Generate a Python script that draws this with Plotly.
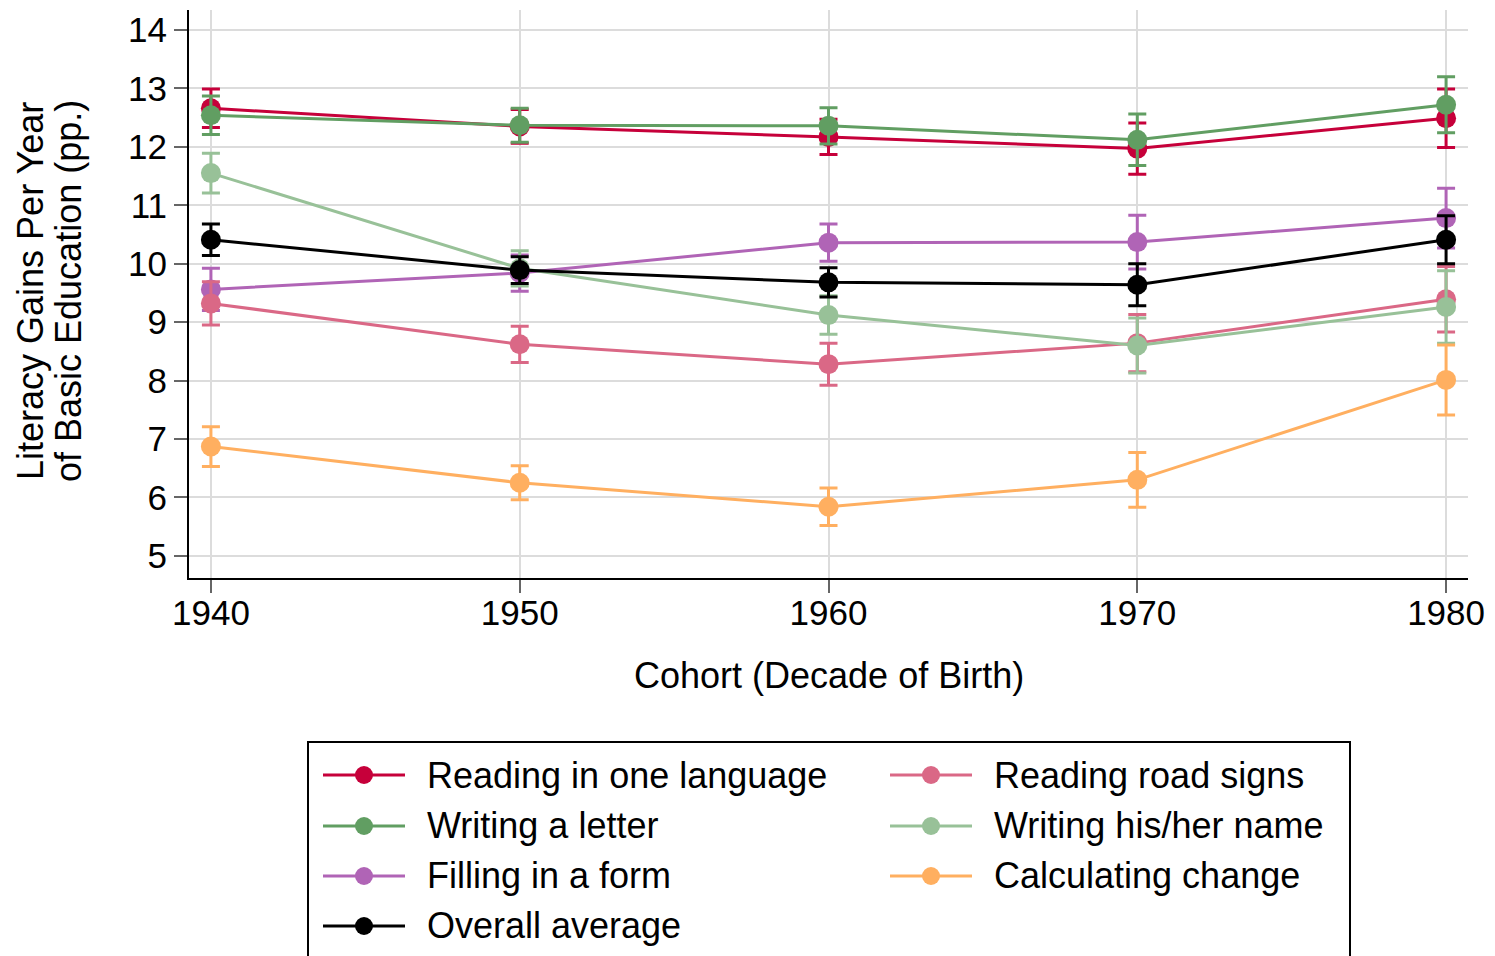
import plotly.graph_objects as go

# Cohorts (decade of birth)
cohorts = [1940, 1950, 1960, 1970, 1980]

# Literacy gains per year of basic education (pp.) and 95% CI half-widths
reading_one_language = [12.66, 12.35, 12.17, 11.97, 12.49]
reading_one_language_ci = [0.33, 0.29, 0.30, 0.44, 0.50]

writing_letter = [12.54, 12.37, 12.36, 12.12, 12.72]
writing_letter_ci = [0.33, 0.29, 0.31, 0.44, 0.48]

filling_form = [9.56, 9.84, 10.36, 10.37, 10.78]
filling_form_ci = [0.36, 0.31, 0.32, 0.46, 0.51]

reading_road_signs = [9.32, 8.62, 8.28, 8.64, 9.39]
reading_road_signs_ci = [0.37, 0.31, 0.36, 0.49, 0.56]

writing_name = [11.55, 9.92, 9.12, 8.60, 9.26]
writing_name_ci = [0.34, 0.30, 0.33, 0.47, 0.62]

calculating_change = [6.87, 6.25, 5.84, 6.30, 8.01]
calculating_change_ci = [0.34, 0.29, 0.32, 0.47, 0.60]

overall_average = [10.41, 9.89, 9.68, 9.64, 10.41]
overall_average_ci = [0.27, 0.23, 0.25, 0.36, 0.41]

y_ticks = [5, 6, 7, 8, 9, 10, 11, 12, 13, 14]

FONT = "Liberation Sans, Arial, Helvetica, sans-serif"

# (name, values, ci, colour, legend column, legend row) in drawing order
series = [
    ("Reading in one language", reading_one_language, reading_one_language_ci, "#C6003A", 0, 0),
    ("Writing a letter", writing_letter, writing_letter_ci, "#619E62", 0, 1),
    ("Filling in a form", filling_form, filling_form_ci, "#B064B6", 0, 2),
    ("Reading road signs", reading_road_signs, reading_road_signs_ci, "#DA6886", 1, 0),
    ("Writing his/her name", writing_name, writing_name_ci, "#98C198", 1, 1),
    ("Calculating change", calculating_change, calculating_change_ci, "#FFAF60", 1, 2),
    ("Overall average", overall_average, overall_average_ci, "#000000", 0, 3),
]

fig = go.Figure()
for name, vals, ci, color, _, _ in series:
    fig.add_trace(go.Scatter(
        x=cohorts, y=vals, name=name, mode="lines+markers",
        line=dict(color=color, width=3),
        marker=dict(color=color, size=20),
        error_y=dict(type="data", array=ci, symmetric=True,
                     color=color, thickness=3, width=9),
        showlegend=False,
    ))

# Figure geometry in pixels
W, H = 1495, 956
ML, MR, MT, MB = 189, 27, 10, 378
PW, PH = W - ML - MR, H - MT - MB


def px_x(px):
    return (px - ML) / PW


def px_y(py):
    return (H - MB - py) / PH


shapes = []
annotations = []

# Legend frame
shapes.append(dict(type="rect", xref="paper", yref="paper",
                   x0=px_x(308), x1=px_x(1350), y0=px_y(742), y1=px_y(990),
                   line=dict(color="black", width=2), fillcolor="white",
                   layer="above"))

col_left = [323, 890]
row_y = [775, 826, 876, 926]
for name, _, _, color, col, row in series:
    x0 = col_left[col]
    yc = px_y(row_y[row])
    shapes.append(dict(type="line", xref="paper", yref="paper",
                       x0=px_x(x0), x1=px_x(x0 + 82), y0=yc, y1=yc,
                       line=dict(color=color, width=3), layer="above"))
    shapes.append(dict(type="circle", xref="paper", yref="paper",
                       xsizemode="pixel", ysizemode="pixel",
                       xanchor=px_x(x0 + 41), yanchor=yc,
                       x0=-9, x1=9, y0=-9, y1=9,
                       fillcolor=color, line=dict(width=0), layer="above"))
    annotations.append(dict(xref="paper", yref="paper",
                            x=px_x(x0 + 102), y=yc, xanchor="left", yanchor="middle",
                            text=name, showarrow=False,
                            font=dict(family=FONT, size=36, color="black")))

# Axis titles
annotations.append(dict(xref="paper", yref="paper", x=0.5, y=px_y(676),
                        xanchor="center", yanchor="middle",
                        text="Cohort (Decade of Birth)", showarrow=False,
                        font=dict(family=FONT, size=36, color="black")))
for line_text, cx in [("Literacy Gains Per Year", 30), ("of Basic Education (pp.)", 68)]:
    annotations.append(dict(xref="paper", yref="paper", x=px_x(cx), y=px_y(291),
                            xanchor="center", yanchor="middle", textangle=-90,
                            text=line_text, showarrow=False,
                            font=dict(family=FONT, size=36, color="black")))

fig.update_layout(
    width=W, height=H,
    margin=dict(l=ML, r=MR, t=MT, b=MB),
    paper_bgcolor="white", plot_bgcolor="white",
    font=dict(family=FONT, size=34, color="black"),
    shapes=shapes, annotations=annotations,
    showlegend=False,
)

fig.update_xaxes(
    range=[1939.29, 1980.71], tickvals=cohorts,
    showgrid=True, gridcolor="#DCDCDC", gridwidth=2,
    showline=True, linecolor="black", linewidth=2,
    ticks="outside", ticklen=13, tickwidth=1.5, tickcolor="#666666",
    tickfont=dict(family=FONT, size=35, color="black"),
    ticklabelstandoff=-10,
    zeroline=False,
)
fig.update_yaxes(
    range=[4.62, 14.342], tickvals=y_ticks,
    showgrid=True, gridcolor="#DCDCDC", gridwidth=2,
    showline=True, linecolor="black", linewidth=2,
    ticks="outside", ticklen=13, tickwidth=1.5, tickcolor="#666666",
    tickfont=dict(family=FONT, size=35, color="black"),
    zeroline=False,
)

fig.write_html("out.html")
